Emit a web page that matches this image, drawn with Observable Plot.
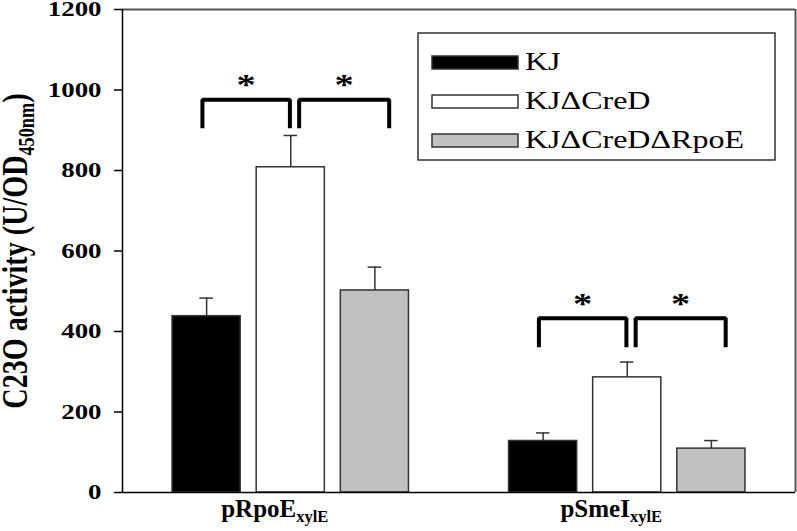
<!DOCTYPE html>
<html>
<head>
<meta charset="utf-8">
<script src="https://cdn.jsdelivr.net/npm/d3@7"></script>
<script src="https://cdn.jsdelivr.net/npm/@observablehq/plot@0.6"></script>
<style>
  html, body { margin: 0; padding: 0; background: #fff; }
  #wrap { position: relative; width: 797px; height: 531px; }
  #wrap svg { display: block; }
  #legend { position: absolute; left: 0; top: 0; pointer-events: none; }
</style>
</head>
<body>
<div id="wrap"></div>
<script>
// ---- data ----
const strains = ["KJ", "KJΔCreD", "KJΔCreDΔRpoE"];
const groups = ["pRpoE", "pSmeI"];
const groupSub = "xylE";
const meanRpoE = [438, 808, 502];
const upperRpoE = [483, 887, 560];
const meanSmeI = [128, 286, 109];
const upperSmeI = [148, 324, 129];
const yTicks = [0, 200, 400, 600, 800, 1000, 1200];
const sigPairs = [[0, 1], [1, 2]];
const sigTop = [976, 433];
const sigBottom = [905, 361];
const yLabelMain = "C23O activity (U/OD";
const yLabelSub = "450nm";
const yLabelEnd = ")";
const colors = ["#000000", "#ffffff", "#c0c0c0"];

// ---- build tables ----
const means = [meanRpoE, meanSmeI];
const uppers = [upperRpoE, upperSmeI];
const slotOf = (g, s) => g * 4 + s;
const bars = [];
groups.forEach((g, gi) => strains.forEach((s, si) => bars.push({
  group: g, strain: s, slot: slotOf(gi, si), value: means[gi][si], upper: uppers[gi][si]
})));

const hw = 0.405;      // half bar width (slots)
const capHw = 0.08;    // half cap width
const inset = [[-0.05, -0.01], [0.1, 0.17]];
const brackets = [];
const bracketPts = [];
groups.forEach((g, gi) => sigPairs.forEach(([a, b], pi) => {
  const x1 = slotOf(gi, a) + inset[pi][0];
  const x2 = slotOf(gi, b) + inset[pi][1];
  const id = g + pi;
  brackets.push({id, mid: (x1 + x2) / 2, top: sigTop[gi]});
  bracketPts.push({id, x: x1, y: sigBottom[gi]}, {id, x: x1, y: sigTop[gi]},
                  {id, x: x2, y: sigTop[gi]}, {id, x: x2, y: sigBottom[gi]});
}));
const groupPos = groups.map((g, gi) => ({g, x: slotOf(gi, 1)}));

const serif = "'Liberation Serif', 'Times New Roman', serif";

const plot = Plot.plot({
  width: 797,
  height: 531,
  marginLeft: 122,
  marginRight: 2,
  marginTop: 9,
  marginBottom: 39,
  style: {fontFamily: serif, background: "#fff", overflow: "visible"},
  x: {domain: [-1, 7], axis: null},
  y: {domain: [0, 1200], axis: null},
  color: {domain: strains, range: colors},
  marks: [
    Plot.rect(bars, {x1: d => d.slot - hw, x2: d => d.slot + hw, y1: 0, y2: "value",
      fill: "strain", stroke: "#333", strokeWidth: 1.5}),
    Plot.ruleX(bars, {x: "slot", y1: "value", y2: "upper", stroke: "#333", strokeWidth: 1.5}),
    Plot.ruleY(bars, {y: "upper", x1: d => d.slot - capHw, x2: d => d.slot + capHw, stroke: "#333", strokeWidth: 1.5}),
    Plot.line(bracketPts, {x: "x", y: "y", z: "id", stroke: "#000", strokeWidth: 4,
      strokeLinejoin: "miter", strokeLinecap: "butt"}),
    Plot.text(brackets, {x: "mid", y: "top", text: () => "*", dy: -15, fontSize: 30, fontWeight: "bold", fill: "#000"}),
    Plot.ruleY([1200], {stroke: "#555", strokeWidth: 2}),
    Plot.ruleX([7], {stroke: "#555", strokeWidth: 2}),
    Plot.ruleY([0], {stroke: "#000", strokeWidth: 1.5}),
    Plot.ruleX([-1], {stroke: "#000", strokeWidth: 1.5}),
    Plot.axisY({ticks: yTicks, tickSize: 8, tickPadding: 13, fontSize: 21, fontWeight: "bold",
      tickFormat: d => String(d), label: null, stroke: "#000", strokeWidth: 1.5, fill: "#000"}),
    Plot.text(groupPos, {x: "x", text: "g", frameAnchor: "bottom", dy: 24, dx: -16,
      fontSize: 25, fontWeight: "bold", fill: "#000"}),
    Plot.text([yLabelMain + yLabelSub + yLabelEnd], {frameAnchor: "left", dx: -107, rotate: -90,
      fontSize: 36, fontWeight: "bold", fill: "#000"})
  ]
});

const wrap = document.getElementById("wrap");
wrap.append(plot);

// ---- subscripts ----
const svg = d3.select(plot);
svg.selectAll("text").each(function() {
  const t = d3.select(this);
  const s = this.textContent;
  if (groups.includes(s)) {
    t.text(null);
    t.append("tspan").text(s);
    t.append("tspan").attr("dy", 5).attr("font-size", "0.66em").text(groupSub);
    this.__kind = "h";
  } else if (s === yLabelMain + yLabelSub + yLabelEnd) {
    t.text(null);
    t.append("tspan").text(yLabelMain);
    t.append("tspan").attr("dy", 7).attr("font-size", "0.65em").text(yLabelSub);
    t.append("tspan").attr("dy", -7).text(yLabelEnd);
    this.__kind = "v";
  }
});

// ---- legend ----
const legend = d3.select(wrap).append("svg").attr("id", "legend")
  .attr("width", 797).attr("height", 531);
legend.append("rect").attr("x", 418).attr("y", 33).attr("width", 357).attr("height", 127)
  .attr("fill", "#fff").attr("stroke", "#333").attr("stroke-width", 1.5);
const rowY = [56, 95, 134];
strains.forEach((s, i) => {
  legend.append("rect").attr("x", 432).attr("y", rowY[i]).attr("width", 86).attr("height", 13)
    .attr("fill", colors[i]).attr("stroke", "#333").attr("stroke-width", 1.5);
  legend.append("text").attr("x", 525).attr("y", rowY[i] + 14)
    .attr("font-family", serif).attr("font-size", 25).attr("fill", "#000").text(s);
});

// ---- horizontal stretch of lettering, as in the reference ----
const K = 1.28;
function stretch(root) {
  root.selectAll("text").each(function() {
    if (this.__kind === "h") return;
    const len = this.getComputedTextLength();
    if (this.__kind === "v") {
      const L = len / K;
      this.setAttribute("textLength", L);
      this.setAttribute("text-anchor", "start");
      this.setAttribute("x", -L / 2);
    } else {
      this.setAttribute("textLength", len * K);
    }
    this.setAttribute("lengthAdjust", "spacingAndGlyphs");
  });
}
stretch(svg);
stretch(legend);
</script>
</body>
</html>
